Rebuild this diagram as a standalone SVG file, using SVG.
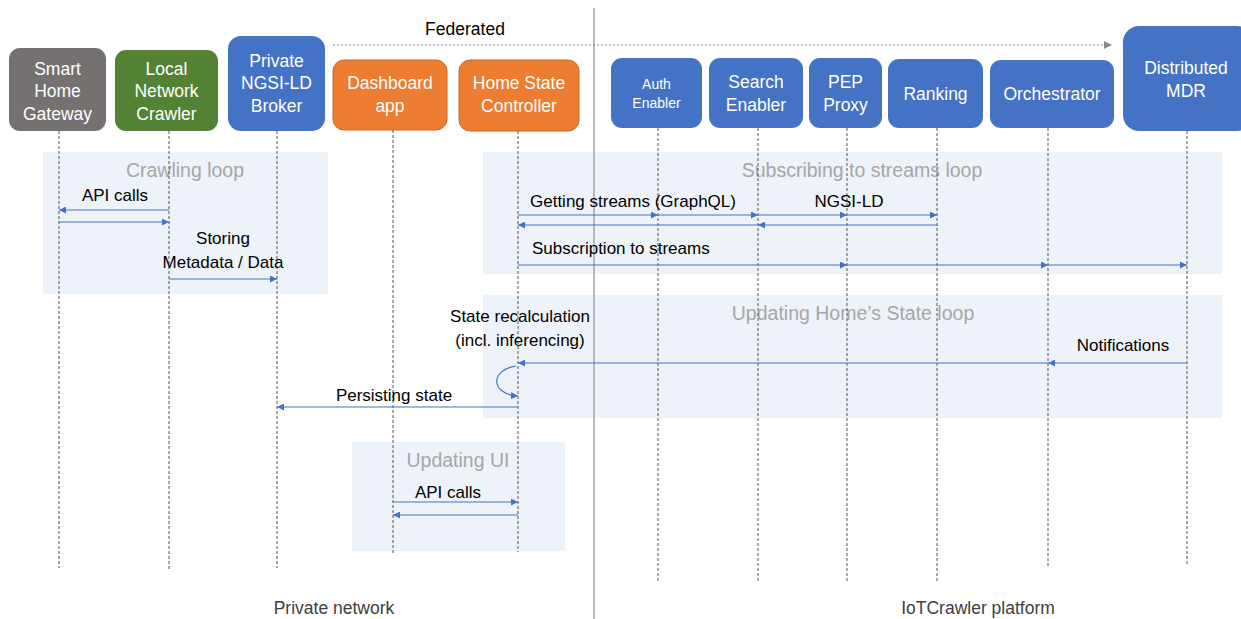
<svg xmlns="http://www.w3.org/2000/svg" width="1241" height="619" viewBox="0 0 1241 619">
<defs>
<marker id="ah" viewBox="0 0 10 10" refX="10" refY="5" markerWidth="7" markerHeight="7" markerUnits="userSpaceOnUse" orient="auto"><path d="M0,0 L10,5 L0,10 z" fill="#4472C4"/></marker>
<marker id="ahg" viewBox="0 0 10 10" refX="10" refY="5" markerWidth="8" markerHeight="8" markerUnits="userSpaceOnUse" orient="auto"><path d="M0,0 L10,5 L0,10 z" fill="#8C8C8C"/></marker>
</defs>
<style>
text{font-family:"Liberation Sans",Arial,sans-serif;}
.bt{fill:#fff;font-size:17.5px;text-anchor:middle;}
.bs{fill:#fff;font-size:14px;text-anchor:middle;}
.lt{fill:#A6A6A6;font-size:19.5px;text-anchor:middle;}
.mt{fill:#000;font-size:17px;}
.mc{fill:#000;font-size:17px;text-anchor:middle;}
.region{fill:#EEF3FA;}
.life{stroke:#555;stroke-width:1;stroke-dasharray:3,2;fill:none;}
.msg{stroke:#4472C4;stroke-width:1.2;fill:none;marker-end:url(#ah);}
.gray{fill:#767171;}
.green{fill:#548235;}
.blue{fill:#4472C4;}
.orange{fill:#ED7D31;stroke:#C9651F;stroke-width:1;}
.foot{fill:#404040;font-size:17.5px;text-anchor:middle;}
</style>
<rect width="1241" height="619" fill="#fff"/>
<g id="regions">
<rect class="region" x="43" y="152" width="285" height="142"/>
<rect class="region" x="483" y="152" width="739" height="122"/>
<rect class="region" x="483" y="295" width="739" height="123"/>
<rect class="region" x="352" y="442" width="213" height="109"/>
<text class="lt" x="185" y="177">Crawling loop</text>
<text class="lt" x="862" y="177">Subscribing to streams loop</text>
<text class="lt" x="853" y="320">Updating Home’s State loop</text>
<text class="lt" x="458" y="467">Updating UI</text>
</g>
<g id="separator">
<line x1="594" y1="8" x2="594" y2="619" stroke="#A6A6A6" stroke-width="1.5"/>
</g>
<g id="lifelines">
<line class="life" x1="59" y1="131" x2="59" y2="568"/>
<line class="life" x1="169" y1="131" x2="169" y2="570"/>
<line class="life" x1="277" y1="131" x2="277" y2="568"/>
<line class="life" x1="393" y1="130" x2="393" y2="555"/>
<line class="life" x1="518" y1="131" x2="518" y2="552"/>
<line class="life" x1="658" y1="128" x2="658" y2="582"/>
<line class="life" x1="758" y1="128" x2="758" y2="582"/>
<line class="life" x1="847" y1="128" x2="847" y2="582"/>
<line class="life" x1="937" y1="128" x2="937" y2="582"/>
<line class="life" x1="1048" y1="128" x2="1048" y2="566"/>
<line class="life" x1="1187" y1="131" x2="1187" y2="566"/>
</g>
<g id="node-smart-home-gateway">
<rect class="gray" x="9" y="48" width="97" height="83" rx="11"/>
<text class="bt" x="57.5" y="75">Smart</text>
<text class="bt" x="57.5" y="97">Home</text>
<text class="bt" x="57.5" y="120">Gateway</text>
</g>
<g id="node-local-network-crawler">
<rect class="green" x="115" y="50" width="103" height="81" rx="11"/>
<text class="bt" x="166.5" y="75">Local</text>
<text class="bt" x="166.5" y="97">Network</text>
<text class="bt" x="166.5" y="120">Crawler</text>
</g>
<g id="node-private-broker">
<rect class="blue" x="228" y="36" width="97" height="95" rx="13"/>
<text class="bt" x="276.5" y="67">Private</text>
<text class="bt" x="276.5" y="89">NGSI-LD</text>
<text class="bt" x="276.5" y="112">Broker</text>
</g>
<g id="node-dashboard-app">
<rect class="orange" x="333" y="60" width="114" height="70" rx="11"/>
<text class="bt" x="390" y="89">Dashboard</text>
<text class="bt" x="390" y="112">app</text>
</g>
<g id="node-home-state-controller">
<rect class="orange" x="459" y="60" width="120" height="71" rx="11"/>
<text class="bt" x="519" y="89">Home State</text>
<text class="bt" x="519" y="112">Controller</text>
</g>
<g id="node-auth-enabler">
<rect class="blue" x="611" y="58" width="91" height="70" rx="11"/>
<text class="bs" x="656.5" y="89">Auth</text>
<text class="bs" x="656.5" y="108">Enabler</text>
</g>
<g id="node-search-enabler">
<rect class="blue" x="709" y="58" width="94" height="70" rx="11"/>
<text class="bt" x="756" y="88">Search</text>
<text class="bt" x="756" y="111">Enabler</text>
</g>
<g id="node-pep-proxy">
<rect class="blue" x="809" y="58" width="73" height="70" rx="11"/>
<text class="bt" x="845.5" y="88">PEP</text>
<text class="bt" x="845.5" y="111">Proxy</text>
</g>
<g id="node-ranking">
<rect class="blue" x="888" y="59" width="95" height="69" rx="11"/>
<text class="bt" x="935.5" y="100">Ranking</text>
</g>
<g id="node-orchestrator">
<rect class="blue" x="990" y="60" width="124" height="68" rx="11"/>
<text class="bt" x="1052" y="100">Orchestrator</text>
</g>
<g id="node-distributed-mdr">
<rect class="blue" x="1123" y="26" width="130" height="105" rx="16"/>
<text class="bt" x="1186" y="74">Distributed</text>
<text class="bt" x="1186" y="97">MDR</text>
</g>
<g id="connectors">
<line x1="333" y1="45" x2="1112" y2="45" stroke="#8C8C8C" stroke-width="1" stroke-dasharray="2,2" marker-end="url(#ahg)"/>
<line class="msg" x1="169" y1="210" x2="59" y2="210"/>
<line class="msg" x1="59" y1="222" x2="169" y2="222"/>
<line class="msg" x1="169" y1="279" x2="277" y2="279"/>
<line class="msg" x1="518" y1="215" x2="658" y2="215"/>
<line class="msg" x1="658" y1="215" x2="758" y2="215"/>
<line class="msg" x1="758" y1="215" x2="847" y2="215"/>
<line class="msg" x1="847" y1="215" x2="937" y2="215"/>
<line class="msg" x1="937" y1="225" x2="758" y2="225"/>
<line class="msg" x1="758" y1="225" x2="518" y2="225"/>
<line class="msg" x1="518" y1="265" x2="847" y2="265"/>
<line class="msg" x1="847" y1="265" x2="1048" y2="265"/>
<line class="msg" x1="1048" y1="265" x2="1187" y2="265"/>
<line class="msg" x1="1187" y1="363" x2="1048" y2="363"/>
<line class="msg" x1="1048" y1="363" x2="518" y2="363"/>
<path class="msg" d="M516,366 C490,370 490,394 518,396"/>
<line class="msg" x1="518" y1="407" x2="277" y2="407"/>
<line class="msg" x1="393" y1="502" x2="518" y2="502"/>
<line class="msg" x1="518" y1="515" x2="393" y2="515"/>
</g>
<g id="labels">
<text x="465" y="35" fill="#000" font-size="17.5" text-anchor="middle">Federated</text>
<text class="mc" x="115" y="201">API calls</text>
<text class="mc" x="223" y="244">Storing</text>
<text class="mc" x="223" y="268">Metadata / Data</text>
<text class="mt" x="530" y="207">Getting streams (GraphQL)</text>
<text class="mc" x="849" y="207">NGSI-LD</text>
<text class="mt" x="532" y="254">Subscription to streams</text>
<text class="mc" x="520" y="322">State recalculation</text>
<text class="mc" x="520" y="346">(incl. inferencing)</text>
<text class="mc" x="1123" y="351">Notifications</text>
<text class="mc" x="394" y="401">Persisting state</text>
<text class="mc" x="448" y="498">API calls</text>
<text class="foot" x="334" y="614">Private network</text>
<text class="foot" x="978" y="614">IoTCrawler platform</text>
</g>
</svg>
